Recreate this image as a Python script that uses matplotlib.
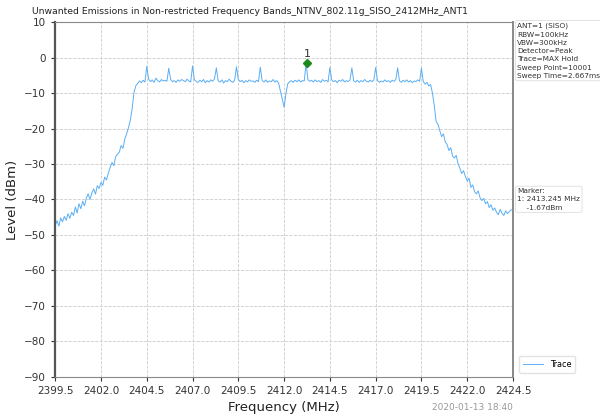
import numpy as np
import matplotlib
matplotlib.use('Agg')
from matplotlib import pyplot as plt

f_start = 2399.5
f_stop = 2424.5
n_points = 251

level = [
    -47.3, -46.0, -47.5, -45.2, -46.3, -44.8, -45.9, -44.0, -45.3, -43.6,
    -44.5, -42.1, -43.8, -41.2, -42.6, -40.5, -41.8, -39.6, -38.4, -40.0,
    -38.2, -37.0, -38.5, -36.1, -36.9, -35.2, -36.0, -33.7, -34.5, -32.6,
    -31.0, -29.6, -30.5, -28.0, -27.2, -26.7, -24.8, -25.6, -23.0, -21.5,
    -19.8, -17.7, -14.5, -9.9, -8.0, -7.3, -6.6, -7.1, -6.4, -6.9,
    -2.5, -6.0, -6.8, -6.3, -7.0, -5.8, -6.5, -6.9, -6.2, -6.6,
    -6.4, -6.7, -3.0, -6.1, -6.8, -6.5, -7.0, -6.3, -6.7, -6.2,
    -6.5, -6.8, -6.1, -6.6, -6.9, -2.4, -6.3, -6.7, -7.0, -6.4,
    -6.8, -6.2, -7.1, -6.5, -6.9, -6.3, -6.7, -6.0, -2.9, -6.6,
    -6.9, -6.3, -7.2, -6.5, -6.8, -6.1, -6.7, -7.0, -6.4, -2.6,
    -6.2, -6.8, -6.4, -7.1, -6.5, -6.9, -6.3, -6.7, -6.6, -7.0,
    -6.4, -6.8, -2.7, -6.5, -6.9, -6.3, -7.0, -6.6, -6.8, -6.2,
    -6.9, -6.5, -7.2, -9.5, -11.8, -14.0, -10.2, -7.4, -6.8, -6.5,
    -7.0, -6.4, -6.8, -6.3, -6.9, -6.5, -6.6, -1.67, -6.2, -6.7,
    -6.4, -6.9, -6.3, -6.8, -6.5, -7.0, -6.2, -6.7, -6.4, -6.9,
    -2.8, -6.3, -6.8, -6.5, -7.1, -6.4, -6.7, -6.2, -6.9, -6.5,
    -6.8, -6.3, -2.9, -6.6, -6.9, -6.4, -7.0, -6.5, -6.8, -6.2,
    -6.7, -6.9, -6.4, -6.8, -6.3, -2.8, -6.5, -7.0, -6.6, -6.9,
    -6.3, -6.8, -6.5, -7.0, -6.4, -6.7, -6.2, -2.9, -6.6, -7.0,
    -6.4, -6.8, -6.3, -6.9, -6.5, -7.1, -6.6, -6.8, -6.3, -6.7,
    -3.0, -6.8, -7.5, -7.0, -8.0, -7.6, -10.0, -13.5, -18.0, -18.8,
    -20.5, -22.3, -21.5, -23.8, -24.5, -26.2, -25.4, -27.8, -28.3, -27.6,
    -29.9, -31.2, -32.7, -31.9, -33.5, -34.8, -34.0, -36.6, -35.9, -37.8,
    -38.4, -37.6, -39.5, -40.3, -39.7, -41.2, -40.6, -42.3, -41.5, -43.0,
    -42.4, -43.6, -44.3, -42.8, -43.9, -44.5, -43.2, -44.0, -43.4, -42.9,
    -43.1,
]

marker_freq = 2413.245
marker_level = -1.67

x_ticks = [2399.5, 2402.0, 2404.5, 2407.0, 2409.5, 2412.0, 2414.5, 2417.0, 2419.5, 2422.0, 2424.5]
y_ticks = [10, 0, -10, -20, -30, -40, -50, -60, -70, -80, -90]

settings = ['ANT=1 (SISO)', 'RBW=100kHz', 'VBW=300kHz', 'Detector=Peak',
            'Trace=MAX Hold', 'Sweep Point=10001', 'Sweep Time=2.667ms']

freq = np.linspace(f_start, f_stop, n_points)

fig = plt.figure(figsize=(6.0, 4.16), dpi=100)
ax = fig.add_axes([0.092, 0.094, 0.763, 0.853])

ax.plot(freq, level, color='#5aaef5', lw=0.7, label='Trace')
ax.plot(marker_freq, marker_level, 'D', color='#1a8a1a', ms=4)
ax.text(marker_freq, marker_level + 1.3, '1', ha='center', va='bottom', fontsize=8, color='#333333')

ax.set_xlim(f_start, f_stop)
ax.set_ylim(-90, 10)
ax.set_xticks(x_ticks)
ax.set_xticklabels(['%.1f' % v for v in x_ticks])
ax.set_yticks(y_ticks)
ax.tick_params(labelsize=7.5, colors='#333333', length=3)
ax.grid(True, ls='--', color='#cccccc', lw=0.6)
for s in ax.spines.values():
    s.set_color('#888888')
ax.spines['left'].set_linewidth(1.6)
ax.spines['left'].set_color('#555555')
ax.spines['right'].set_linewidth(1.4)

ax.set_xlabel('Frequency (MHz)', fontsize=9.5, color='#222222')
ax.set_ylabel('Level (dBm)', fontsize=9.5, color='#222222')

fig.text(32 / 600, 1 - 12 / 416, 'Unwanted Emissions in Non-restricted Frequency Bands_NTNV_802.11g_SISO_2412MHz_ANT1',
         fontsize=6.7, va='center', ha='left', color='#222222')

box = dict(boxstyle='round,pad=0.25', fc='white', ec='#dddddd', lw=0.6)
fig.text(0.862, 0.945, '\n'.join(settings), fontsize=5.3, va='top', ha='left',
         color='#333333', linespacing=1.45, bbox=box)
fig.text(0.862, 0.548, 'Marker:\n1: %.3f MHz\n    %.2fdBm' % (marker_freq, marker_level),
         fontsize=5.3, va='top', ha='left', color='#333333', linespacing=1.45, bbox=box)

ax.legend(loc='lower left', bbox_to_anchor=(1.005, 0.0), fontsize=5.8, frameon=True,
          edgecolor='#dddddd', handlelength=2.5, borderpad=0.5)

fig.text(513 / 600, 1 - 407 / 416, '2020-01-13 18:40', fontsize=6.5, ha='right', va='center', color='#999999')

fig.savefig('out.png', dpi=100)
